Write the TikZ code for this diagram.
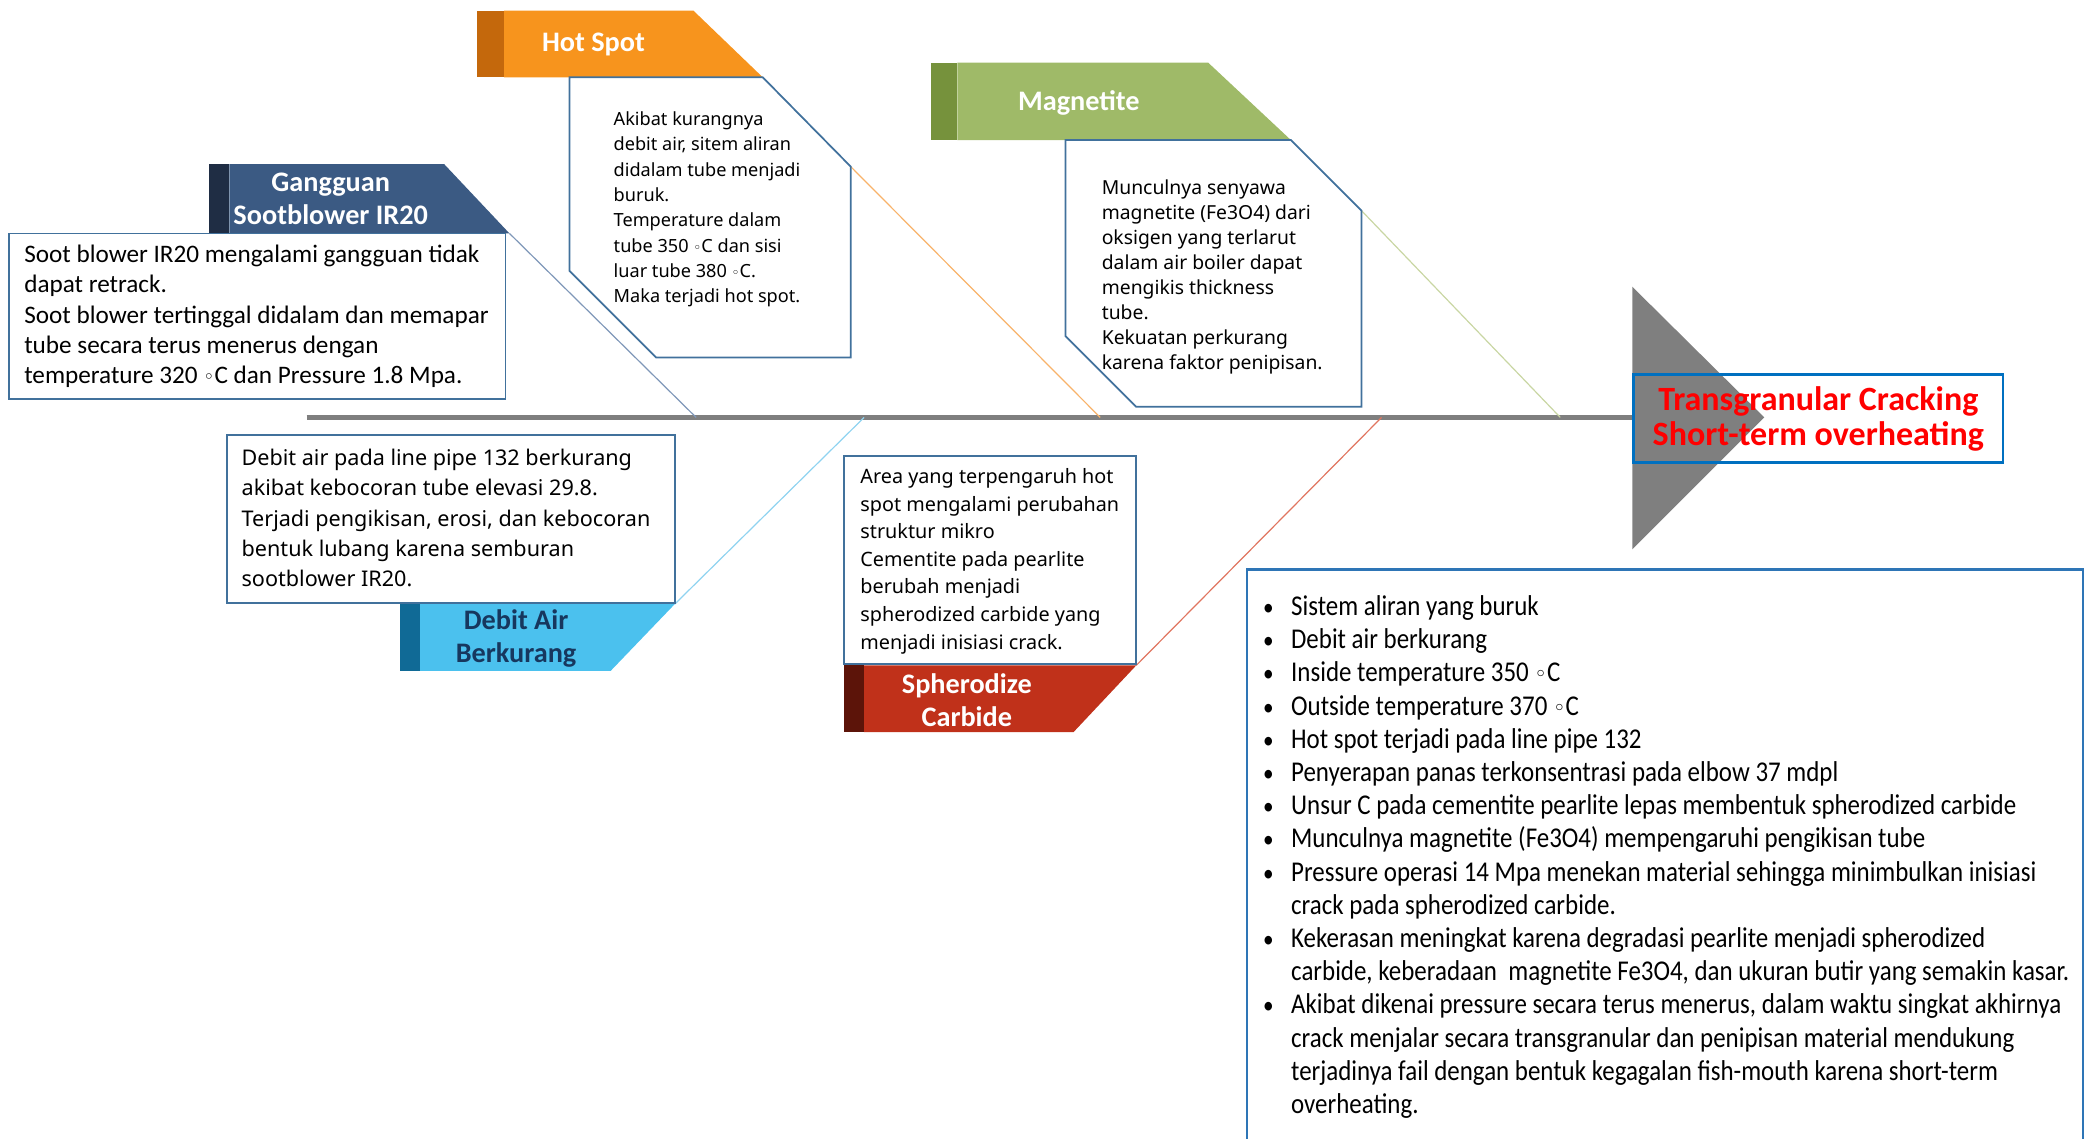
\documentclass[tikz,border=0pt]{standalone}
\usepackage{fontspec}
\setmainfont{Carlito}
\newfontfamily\uifont{Noto Sans}
\newfontfamily\narrowfont[FakeStretch=0.87]{Carlito}
\newfontfamily\symfont{DejaVu Sans}
\newcommand\dg{{\symfont\scalebox{0.75}{◦}}}
% body text set as a top-aligned column so that the node's base is its first line
\newcommand\lines[1]{\begin{tabular}[t]{@{}l@{}}#1\end{tabular}}
\newcommand\bul{\scalebox{0.85}{\textbullet}}

\definecolor{spinegray}{HTML}{7F7F7F}
\definecolor{hotmain}{HTML}{F7941D}
\definecolor{hotdark}{HTML}{C4680C}
\definecolor{gangmain}{HTML}{3B5A83}
\definecolor{gangdark}{HTML}{1F2D44}
\definecolor{magmain}{HTML}{9FBA68}
\definecolor{magdark}{HTML}{76923C}
\definecolor{debmain}{HTML}{4BC1EE}
\definecolor{debdark}{HTML}{106A96}
\definecolor{debtext}{HTML}{17375E}
\definecolor{sphmain}{HTML}{C0311A}
\definecolor{sphdark}{HTML}{5C1409}
\definecolor{boxblue}{HTML}{41719C}
\definecolor{resblue}{HTML}{0070C0}
\definecolor{listblue}{HTML}{2E75B6}
\definecolor{hotline}{HTML}{F8B36A}
\definecolor{gangline}{HTML}{7F97B8}
\definecolor{magline}{HTML}{C9D6A3}
\definecolor{debline}{HTML}{8FD3F0}
\definecolor{sphline}{HTML}{E07560}

\tikzset{
  tabtext/.style={text=white, font=\bfseries\fontsize{21.2}{25}\selectfont, align=center, inner sep=0pt},
  boxline/.style={draw=boxblue, line width=1.3, fill=white},
  conn/.style={line width=0.9},
  spine/.style={draw=spinegray, line width=3.5},
  bodytext/.style={anchor=base west, inner sep=0pt},
}

\begin{document}
\begin{tikzpicture}[x=1pt,y=-1pt]
\useasboundingbox (0,0) rectangle (1568,854);

% ---- spine and head ----
\coordinate (spineL) at (230,313);
\coordinate (spineR) at (1225,313);
\coordinate (jGang) at (522,313);
\coordinate (jDeb) at (648,313);
\coordinate (jHot) at (825,313);
\coordinate (jSph) at (1036,313);
\coordinate (jMag) at (1170,313);
\draw[spine] (spineL) -- (spineR);
\fill[spinegray] (1224,215) -- (1323,313) -- (1224,412) -- cycle;
\node[draw=resblue, line width=2.2, minimum width=277, minimum height=66, inner sep=0pt,
      text=red, font=\bfseries\fontsize{25.5}{26.5}\selectfont, align=center] (result) at (1363.5,314)
  {Transgranular Cracking\\Short-term overheating};

% ---- connector anchors on the cause boxes ----
\coordinate (cGang) at (382,175);
\coordinate (cHot) at (638,125);
\coordinate (cMag) at (1021,158);
\coordinate (cDeb) at (506,453);
\coordinate (cSph) at (852,499);
\draw[conn, gangline] (cGang) -- (jGang);
\draw[conn, hotline] (cHot) -- (jHot);
\draw[conn, magline] (cMag) -- (jMag);
\draw[conn, debline] (cDeb) -- (jDeb);
\draw[conn, sphline] (cSph) -- (jSph);

% ---- Gangguan Sootblower IR20 ----
\fill[gangdark] (157,123) rectangle (172,175);
\fill[gangmain] (172,123) -- (333,123) -- (382,175) -- (172,175) -- cycle;
\node[tabtext] (gang) at (248,149) {Gangguan\\Sootblower IR20};
\draw[boxline] (7,175) rectangle (379,299);
\node[bodytext, font=\fontsize{18.9}{22.7}\selectfont] (gangtxt) at (18,197)
  {\lines{Soot blower IR20 mengalami gangguan tidak\\
   dapat retrack.\\
   Soot blower tertinggal didalam dan memapar\\
   tube secara terus menerus dengan\\
   temperature 320 \dg C dan Pressure 1.8 Mpa.}};

% ---- Hot Spot ----
\fill[hotdark] (358,8) rectangle (378,58);
\fill[hotmain] (378,8) -- (520,8) -- (572,58) -- (378,58) -- cycle;
\node[tabtext] (hot) at (445,33) {Hot Spot};
\draw[boxline] (427,58) -- (572,58) -- (638,125) -- (638,268) -- (492,268) -- (427,203) -- cycle;
\node[bodytext, font=\uifont\fontsize{13.6}{19}\selectfont] (hottxt) at (460,94)
  {\lines{Akibat kurangnya\\
   debit air, sitem aliran\\
   didalam tube menjadi\\
   buruk.\\
   Temperature dalam\\
   tube 350 \dg C dan sisi\\
   luar tube 380 \dg C.\\
   Maka terjadi hot spot.}};

% ---- Magnetite ----
\fill[magdark] (698,47) rectangle (718,105);
\fill[magmain] (718,47) -- (906,47) -- (968,105) -- (718,105) -- cycle;
\node[tabtext] (mag) at (809,77) {Magnetite};
\draw[boxline] (799,105) -- (968,105) -- (1021,158) -- (1021,305) -- (852,305) -- (799,252) -- cycle;
\node[bodytext, font=\uifont\fontsize{14.5}{18.75}\selectfont] (magtxt) at (826,146)
  {\lines{Munculnya senyawa\\
   magnetite (Fe3O4) dari\\
   oksigen yang terlarut\\
   dalam air boiler dapat\\
   mengikis thickness\\
   tube.\\
   Kekuatan perkurang\\
   karena faktor penipisan.}};

% ---- Debit Air Berkurang ----
\draw[boxline] (170,326) rectangle (506,452);
\node[bodytext, font=\uifont\fontsize{16.2}{22.75}\selectfont] (debtxt) at (181,349)
  {\lines{Debit air pada line pipe 132 berkurang\\
   akibat kebocoran tube elevasi 29.8.\\
   Terjadi pengikisan, erosi, dan kebocoran\\
   bentuk lubang karena semburan\\
   sootblower IR20.}};
\fill[debdark] (300,453) rectangle (315,503);
\fill[debmain] (315,453) -- (506,453) -- (458,503) -- (315,503) -- cycle;
\node[tabtext, text=debtext] (deb) at (387,479) {Debit Air\\Berkurang};

% ---- Spherodize Carbide ----
\draw[boxline] (633,342) rectangle (852,498);
\node[bodytext, font=\uifont\fontsize{14.85}{20.7}\selectfont] (sphtxt) at (645,362.5)
  {\lines{Area yang terpengaruh hot\\
   spot mengalami perubahan\\
   struktur mikro\\
   Cementite pada pearlite\\
   berubah menjadi\\
   spherodized carbide yang\\
   menjadi inisiasi crack.}};
\fill[sphdark] (633,499) rectangle (648,549);
\fill[sphmain] (648,499) -- (852,499) -- (805,549) -- (648,549) -- cycle;
\node[tabtext] (sph) at (725,525) {Spherodize\\Carbide};

% ---- summary list ----
\draw[draw=listblue, line width=2] (935,854) -- (935,427) -- (1562,427) -- (1562,854);
\node[anchor=base west, inner sep=0pt] (summary) at (947,461.5)
  {\narrowfont\fontsize{21.5}{24.9}\selectfont
   \begin{tabular}[t]{@{}p{21pt}@{}l@{}}
   \bul & Sistem aliran yang buruk\\
   \bul & Debit air berkurang\\
   \bul & Inside temperature 350 \dg C\\
   \bul & Outside temperature 370 \dg C\\
   \bul & Hot spot terjadi pada line pipe 132\\
   \bul & Penyerapan panas terkonsentrasi pada elbow 37 mdpl\\
   \bul & Unsur C pada cementite pearlite lepas membentuk spherodized carbide\\
   \bul & Munculnya magnetite (Fe3O4) mempengaruhi pengikisan tube\\
   \bul & Pressure operasi 14 Mpa menekan material sehingga minimbulkan inisiasi\\
        & crack pada spherodized carbide.\\
   \bul & Kekerasan meningkat karena degradasi pearlite menjadi spherodized\\
        & carbide, keberadaan\ \ magnetite Fe3O4, dan ukuran butir yang semakin kasar.\\
   \bul & Akibat dikenai pressure secara terus menerus, dalam waktu singkat akhirnya\\
        & crack menjalar secara transgranular dan penipisan material mendukung\\
        & terjadinya fail dengan bentuk kegagalan fish-mouth karena short-term\\
        & overheating.
   \end{tabular}};
\end{tikzpicture}
\end{document}
